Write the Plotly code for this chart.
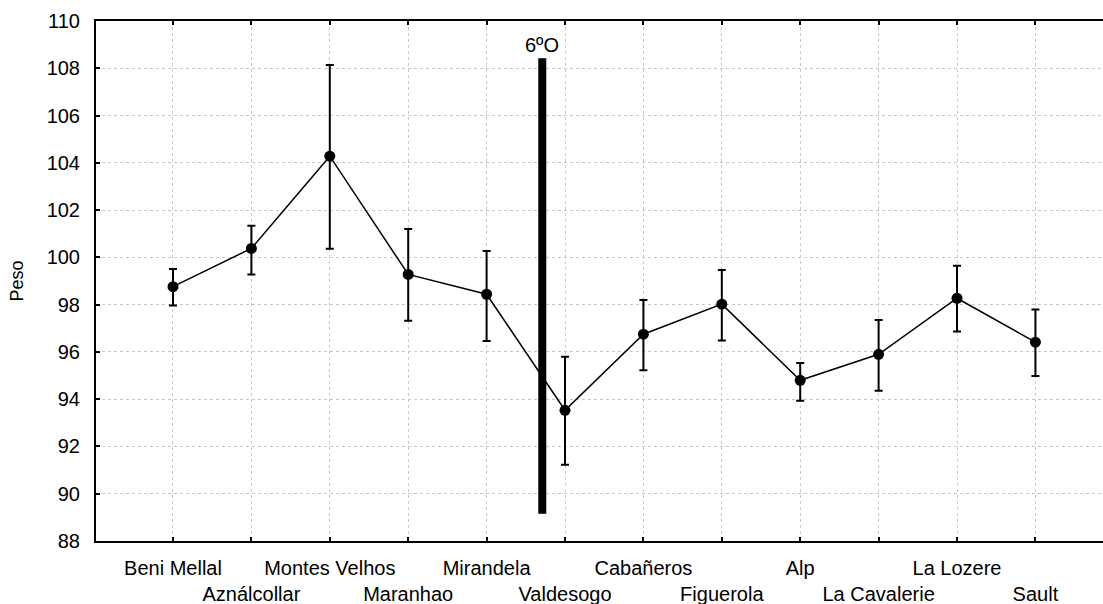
import plotly.graph_objects as go

sites = ["Beni Mellal", "Aználcollar", "Montes Velhos", "Maranhao", "Mirandela",
         "Valdesogo", "Cabañeros", "Figuerola", "Alp", "La Cavalerie",
         "La Lozere", "Sault"]
peso = [98.76, 100.38, 104.28, 99.28, 98.44, 93.53, 96.75, 98.02, 94.80, 95.90, 98.27, 96.41]
err_hi = [99.51, 101.34, 108.14, 101.20, 100.27, 95.80, 98.20, 99.47, 95.53, 97.35, 99.65, 97.79]
err_lo = [97.96, 99.28, 100.36, 97.32, 96.46, 91.23, 95.22, 96.48, 93.93, 94.36, 96.86, 94.98]

divider_x = 4.71
divider_y = [89.15, 108.42]
divider_label = "6ºO"
divider_label_y = 108.98

y_ticks = list(range(88, 111, 2))

idx = list(range(len(sites)))
plus = [h - p for h, p in zip(err_hi, peso)]
minus = [p - l for p, l in zip(peso, err_lo)]
ticktext = [s if i % 2 == 0 else "<br>" + s for i, s in enumerate(sites)]

FONT = "Liberation Sans, Arial, sans-serif"

fig = go.Figure()
fig.add_trace(go.Scatter(
    x=idx, y=peso, mode="lines+markers",
    line=dict(color="black", width=1.5),
    marker=dict(color="black", size=11),
    error_y=dict(type="data", symmetric=False, array=plus, arrayminus=minus,
                 color="black", thickness=2, width=4),
    showlegend=False, hoverinfo="skip"))
fig.add_trace(go.Scatter(
    x=[divider_x, divider_x], y=divider_y, mode="lines",
    line=dict(color="black", width=8), showlegend=False, hoverinfo="skip"))

fig.add_annotation(x=divider_x, y=divider_label_y, xref="x", yref="y",
                   text=divider_label, showarrow=False,
                   font=dict(family=FONT, size=20, color="black"))

fig.update_layout(
    width=1103, height=604,
    margin=dict(l=96, r=0, t=21, b=63),
    paper_bgcolor="white", plot_bgcolor="white",
    font=dict(family=FONT, size=20, color="black"),
    xaxis=dict(range=[-0.982, 11.862], tickmode="array", tickvals=idx, ticktext=ticktext,
               showgrid=True, gridcolor="#c8c8c8", griddash="dot", gridwidth=1,
               zeroline=False, showline=True, linecolor="black", linewidth=2,
               mirror="ticks", ticks="inside", ticklen=4, tickwidth=2, tickcolor="black",
               tickfont=dict(size=20), tickangle=0, ticklabelstandoff=8),
    yaxis=dict(range=[88, 110], tickmode="array", tickvals=y_ticks,
               showgrid=True, gridcolor="#c8c8c8", griddash="dot", gridwidth=1,
               zeroline=False, showline=True, linecolor="black", linewidth=2,
               mirror=False, ticks="inside", ticklen=4, tickwidth=2, tickcolor="black",
               tickfont=dict(size=20), ticklabelstandoff=10,
               title=dict(text="Peso", font=dict(size=18), standoff=18)),
)

fig.write_html("out.html")
